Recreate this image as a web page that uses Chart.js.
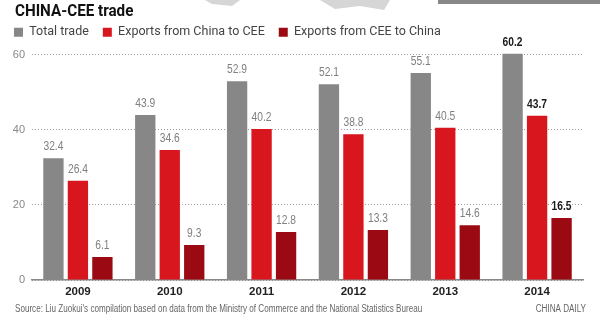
<!DOCTYPE html>
<html>
<head>
<meta charset="utf-8">
<script src="https://cdn.jsdelivr.net/npm/chart.js@4"></script>
<style>
  html, body { margin: 0; padding: 0; background: #fff; }
  #wrap { width: 600px; height: 321px; position: relative; }
</style>
</head>
<body>
<div id="wrap"><canvas id="barChart" width="600" height="321"></canvas></div>
<script>
// chart data
const years = ['2009', '2010', '2011', '2012', '2013', '2014'];
const totalTrade = [32.4, 43.9, 52.9, 52.1, 55.1, 60.2];
const chinaToCee = [26.4, 34.6, 40.2, 38.8, 40.5, 43.7];
const ceeToChina = [6.1, 9.3, 12.8, 13.3, 14.6, 16.5];
const yTicks = [0, 20, 40, 60];

const FONT = 'Roboto, sans-serif';

// draw text squeezed horizontally (the original uses a condensed face)
function narrowText(c, text, x, y, squeeze) {
  c.save();
  c.translate(x, y);
  c.scale(squeeze, 1);
  c.fillText(text, 0, 0);
  c.restore();
}

// title, faint map strip at the top, footer text
const decorPlugin = {
  id: 'decor',
  beforeDraw(chart) {
    const c = chart.ctx;
    c.save();
    c.fillStyle = '#fff';
    c.fillRect(0, 0, chart.width, chart.height);
    c.fillStyle = '#d6d6d6';
    c.beginPath();
    c.moveTo(205, 0); c.lineTo(240, 0); c.lineTo(232, 6); c.lineTo(212, 4); c.closePath();
    c.fill();
    c.beginPath();
    c.moveTo(320, 0); c.lineTo(390, 0); c.lineTo(384, 10); c.lineTo(360, 6); c.lineTo(335, 9); c.closePath();
    c.fill();
    c.fillStyle = '#888';
    c.fillRect(438, 0, 162, 4);

    c.fillStyle = '#111';
    c.font = 'bold 16px ' + FONT;
    c.textBaseline = 'middle';
    c.textAlign = 'left';
    narrowText(c, 'CHINA-CEE trade', 15, 12, 0.95);
    c.restore();
  },
  afterDraw(chart) {
    const c = chart.ctx;
    c.save();
    c.font = '10px Liberation Sans, sans-serif';
    c.fillStyle = '#666';
    c.textBaseline = 'middle';
    c.textAlign = 'left';
    narrowText(c, "Source: Liu Zuokui's compilation based on data from the Ministry of Commerce and the National Statistics Bureau", 15, 309, 0.81);
    c.textAlign = 'right';
    narrowText(c, 'CHINA DAILY', 586, 309, 0.81);
    c.restore();
  }
};

// value labels on top of bars
const valueLabels = {
  id: 'valueLabels',
  afterDatasetsDraw(chart) {
    const c = chart.ctx;
    c.save();
    c.textAlign = 'center';
    c.textBaseline = 'bottom';
    chart.data.datasets.forEach((ds, di) => {
      chart.getDatasetMeta(di).data.forEach((bar, i) => {
        const last = i === ds.data.length - 1;
        c.font = (last ? 'bold ' : '') + '12.5px Liberation Sans, sans-serif';
        c.fillStyle = last ? '#1a1a1a' : '#808080';
        narrowText(c, ds.data[i].toFixed(1), bar.x, bar.y - 5, 0.82);
      });
    });
    c.restore();
  }
};

const ctx = document.getElementById('barChart').getContext('2d');
new Chart(ctx, {
  type: 'bar',
  data: {
    labels: years,
    datasets: [
      { label: 'Total trade', data: totalTrade, backgroundColor: '#878787' },
      { label: 'Exports from China to CEE', data: chinaToCee, backgroundColor: '#d8161e' },
      { label: 'Exports from CEE to China', data: ceeToChina, backgroundColor: '#9b0a12' }
    ]
  },
  options: {
    responsive: false,
    animation: false,
    layout: { padding: { left: 0, right: 17, top: 12, bottom: 19 } },
    datasets: { bar: { categoryPercentage: 0.8, barPercentage: 0.83 } },
    plugins: {
      legend: {
        align: 'start',
        labels: {
          boxWidth: 9,
          boxHeight: 9,
          padding: 14,
          color: '#444',
          font: { family: FONT, size: 12.5 }
        }
      },
      tooltip: { enabled: false }
    },
    scales: {
      x: {
        grid: { display: false, drawTicks: false },
        border: { color: '#888', width: 1.5 },
        ticks: { color: '#222', font: { family: 'Liberation Sans, sans-serif', size: 11.5, weight: 'bold' }, padding: 5 },
        afterFit(scale) { scale.height = 22; }
      },
      y: {
        min: 0,
        max: 61.6,
        afterBuildTicks(scale) { scale.ticks = yTicks.map(v => ({ value: v })); },
        afterFit(scale) { scale.width = 32; },
        border: { display: false, dash: [1, 2] },
        grid: { color: '#9a9a9a', lineWidth: 1, drawTicks: false },
        ticks: { color: '#888', font: { family: 'Liberation Sans, sans-serif', size: 11 }, padding: 7 }
      }
    }
  },
  plugins: [decorPlugin, valueLabels]
});
</script>
</body>
</html>
